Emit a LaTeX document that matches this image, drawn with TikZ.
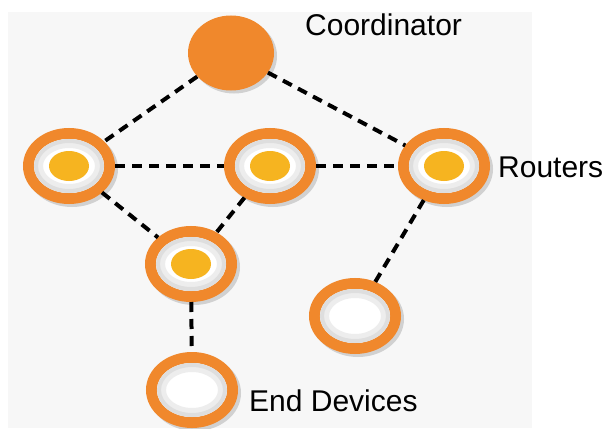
\documentclass[tikz,border=0pt]{standalone}
\usepackage{fontspec}
\setmainfont{Liberation Sans}
\usetikzlibrary{shapes.geometric}
\definecolor{zorange}{RGB}{240,136,44}
\definecolor{zyellow}{RGB}{246,180,32}
\definecolor{zback}{RGB}{247,247,247}

\begin{document}
\begin{tikzpicture}[x=1pt,y=-1pt,
    coordinator/.style={ellipse, fill=zorange, minimum width=86pt, minimum height=75pt, inner sep=0pt},
    ring/.style={ellipse, draw=zorange, fill=white, line width=11pt, minimum width=81pt, minimum height=65pt, inner sep=0pt},
    hub/.style={ellipse, fill=zyellow, minimum width=40pt, minimum height=30pt, inner sep=0pt},
    dropped/.style={black!18, line width=11pt},
    glow/.style={black!7, line width=9pt},
    innerglow/.style={black!13, line width=4pt},
    link/.style={black, line width=4pt, dash pattern=on 10pt off 7pt},
    lbl/.style={font=\fontsize{30}{36}\selectfont, inner sep=0pt, anchor=base west}]
    \useasboundingbox (0,0) rectangle (607,428);
    \fill[white] (0,0) rectangle (607,428);
    \fill[zback] (8,12) rectangle (532,428);
    \fill[black!18] (234,56) ellipse [x radius=43pt, y radius=37.5pt];
    \node[coordinator] (coord) at (231,53) {};
    \foreach \n/\x/\y in {r1/69/166, r2/270/166, r3/444/166, r4/191/264, e1/355/316, e2/192/390} {
        \draw[dropped] (\x+3,\y+3) ellipse [x radius=40.5pt, y radius=32.5pt];
        \node[ring] (\n) at (\x,\y) {};
        \draw[glow] (\n.center) ellipse [x radius=30.5pt, y radius=22.5pt];
        \draw[innerglow] (\n.center) ellipse [x radius=33pt, y radius=25pt];
    }
    \foreach \r in {r1,r2,r3,r4}
        \node[hub] (\r dot) at (\r) {};
    \draw[link] (coord) -- (r1);
    \draw[link] (coord) -- (r3);
    \draw[link] (r1) -- (r2);
    \draw[link] (r2) -- (r3);
    \draw[link] (r1) -- (r4);
    \draw[link] (r2) -- (r4);
    \draw[link] (r3) -- (e1);
    \draw[link] (r4) -- (e2);
    \node[lbl] (coordlabel) at (305,36) {Coordinator};
    \node[lbl] (routerlabel) at (498,177) {Routers};
    \node[lbl] (endlabel) at (249,411) {End Devices};
\end{tikzpicture}
\end{document}
